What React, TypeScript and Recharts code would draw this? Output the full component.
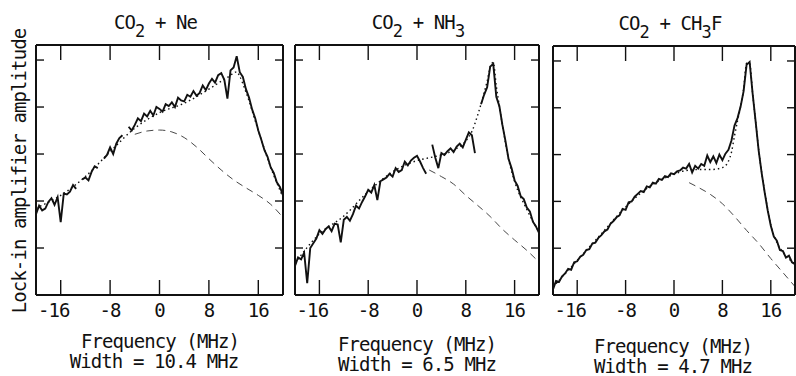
import React from 'react';
import { LineChart, Line, XAxis, YAxis } from 'recharts';

// frequency offsets (MHz) of the recorded traces
const FREQ = [
  -20, -19.5, -19, -18.5, -18, -17.5, -17, -16.5, -16, -15.5,
  -15, -14.5, -14, -13.5, -13, -12.5, -12, -11.5, -11, -10.5,
  -10, -9.5, -9, -8.5, -8, -7.5, -7, -6.5, -6, -5.5,
  -5, -4.5, -4, -3.5, -3, -2.5, -2, -1.5, -1, -0.5,
  0, 0.5, 1, 1.5, 2, 2.5, 3, 3.5, 4, 4.5,
  5, 5.5, 6, 6.5, 7, 7.5, 8, 8.5, 9, 9.5,
  10, 10.5, 11, 11.5, 12, 12.5, 13, 13.5, 14, 14.5,
  15, 15.5, 16, 16.5, 17, 17.5, 18, 18.5, 19, 19.5, 20,
];

// CO2 + Ne
const NE_TRACE = [
  1.72, 1.9, 1.8, 1.84, 1.98, 2.06, 1.92, 2.08, 1.55, 2.16,
  2.14, 2.2, 2.34, 2.26, null, 2.46, 2.5, 2.44, 2.62, 2.74,
  2.7, null, 2.9, 2.98, 3.14, 3.0, 3.22, 3.34, 3.4, null,
  3.58, 3.5, 3.62, 3.76, 3.7, 3.86, 3.8, 3.92, 3.82, 4.0,
  3.96, 3.9, 4.06, 4.02, 4.1, 4.0, 4.2, 4.14, 4.12, 4.26,
  4.22, 4.34, 4.24, 4.3, 4.46, 4.36, 4.5, 4.6, 4.52, 4.68,
  4.72, 4.58, 4.18, 4.78, 4.84, 5.08, 4.74, 4.64, 4.38, 4.2,
  3.95, 3.76, 3.5, 3.3, 3.08, 2.94, 2.72, 2.6, 2.4, 2.3, 2.12,
];
const NE_FIT_F = [-20, -16, -12, -8, -4, 0, 4, 8, 10, 11, 12, 12.5, 13, 14, 16, 18, 20];
const NE_FIT = [1.85, 2.12, 2.52, 3.05, 3.55, 3.88, 4.08, 4.38, 4.55, 4.63, 4.72, 4.75, 4.65, 4.32, 3.5, 2.72, 2.08];
const NE_BASE_F = [-4, -2, 0, 2, 4, 6, 8, 10, 12, 14, 16, 18, 20];
const NE_BASE = [3.42, 3.49, 3.51, 3.47, 3.35, 3.15, 2.9, 2.66, 2.45, 2.28, 2.12, 1.93, 1.65];

// CO2 + NH3
const NH3_TRACE = [
  0.62, 0.8, 0.76, 0.9, 0.25, 1.0, 1.1, 1.2, 1.38, 1.3,
  1.4, 1.46, 1.36, 1.52, 1.5, 1.12, 1.6, 1.66, 1.58, 1.72,
  1.9, 1.84, 1.98, 2.1, 2.24, 2.18, 2.34, 2.02, 2.42, 2.46,
  2.5, 2.58, 2.52, 2.7, 2.62, 2.66, 2.84, 2.76, 2.86, 2.92,
  2.96, 2.84, 2.7, 2.58, null, 3.2, 2.92, 2.7, 3.02, 2.98,
  3.06, 3.12, 3.04, 3.16, 3.22, 3.14, 3.3, 3.46, 3.4, 3.02,
  null, 4.06, 4.26, 4.42, 4.86, 4.92, 4.22, 4.02, 3.62, 3.28,
  2.9, 2.7, 2.44, 2.32, 2.1, 2.04, 1.86, 1.78, 1.56, 1.46, 1.32,
];
const NH3_FIT_F = [-20, -16, -12, -8, -4, 0, 2, 4, 6, 8, 9, 10, 11, 11.5, 12, 12.5, 13, 14, 15, 16, 18, 20];
const NH3_FIT = [0.68, 1.3, 1.68, 2.2, 2.62, 2.86, 2.92, 2.98, 3.08, 3.28, 3.48, 3.85, 4.3, 4.55, 4.85, 4.95, 4.45, 3.62, 2.9, 2.42, 1.82, 1.34];
const NH3_BASE_F = [2, 4, 6, 8, 10, 12, 14, 16, 18, 20];
const NH3_BASE = [2.66, 2.52, 2.36, 2.12, 1.9, 1.67, 1.4, 1.17, 0.95, 0.7];

// CO2 + CH3F
const CH3F_TRACE = [
  0.12, 0.3, 0.28, 0.4, 0.46, 0.56, 0.54, 0.7, 0.72, 0.82,
  0.86, 0.96, 0.98, 1.1, 1.12, 1.22, 1.28, 1.36, 1.4, 1.52,
  1.58, 1.66, 1.7, 1.84, 1.82, 1.98, 2.0, 2.1, 2.16, 2.22,
  2.2, 2.32, 2.3, 2.4, 2.38, 2.48, 2.46, 2.54, 2.52, 2.6,
  2.58, 2.64, 2.66, 2.72, 2.7, 2.8, 2.62, 2.76, 2.7, 2.8,
  2.76, 2.98, 2.84, 2.96, 2.82, 3.0, 2.88, 3.02, 3.1, 3.3,
  3.62, 3.78, 4.02, 4.35, 4.92, 4.98, 4.3, 3.7, 3.08, 2.6,
  2.18, 1.8, 1.48, 1.25, 1.16, 0.96, 0.94, 0.8, 0.84, 0.7, 0.66,
];
const CH3F_FIT_F = [-20, -16, -12, -8, -4, 0, 2, 4, 6, 8, 9, 9.5, 10, 10.5, 11, 11.5, 12, 12.5, 13, 13.5, 14, 15, 16, 17, 18, 20];
const CH3F_FIT = [0.17, 0.74, 1.31, 1.88, 2.32, 2.58, 2.66, 2.68, 2.68, 2.72, 2.86, 3.05, 3.4, 3.72, 4.02, 4.4, 4.95, 4.95, 4.3, 3.7, 3.1, 2.2, 1.5, 1.12, 0.92, 0.66];
const CH3F_BASE_F = [2.5, 4, 6, 8, 10, 12, 14, 16, 18, 20];
const CH3F_BASE = [2.4, 2.3, 2.15, 1.95, 1.68, 1.38, 1.1, 0.78, 0.48, 0.18];

const X_TICKS = [-16, -8, 0, 8, 16];
const Y_TICKS = [1, 2, 3, 4, 5];

const FONT = '"DejaVu Sans Mono", monospace';
const INK = '#111';
const TEXT = { fontFamily: FONT, fontSize: 19, letterSpacing: '-0.9px', color: INK, lineHeight: 1 };

const zip = (fs: number[], vs: (number | null)[]) => fs.map((f, i) => ({ f, v: vs[i] }));

const FreqTick = (props: any) => {
  const { x, y, payload } = props;
  const shift = payload.value === -16 ? -7 : 0;
  return (
    <text x={x + shift} y={y} dy="0.36em" textAnchor="middle" fontFamily={FONT} fontSize={19}
      letterSpacing={-0.9} fill={INK}>
      {payload.value}
    </text>
  );
};
const NoTick = () => <g />;

const axisLine = { stroke: INK, strokeWidth: 2 };
const tickLine = { stroke: INK, strokeWidth: 1.4 };

interface PanelProps {
  x: number;
  y: number;
  w: number;
  h: number;
  trace: any[];
  fit: any[];
  base: any[];
}

// axes of width/height 0 are not drawn, so the hidden-label axes get 1px
const Panel: React.FC<PanelProps> = ({ x, y, w, h, trace, fit, base }) => (
  <div style={{ position: 'absolute', left: x - 20, top: y - 20 }}>
    <LineChart width={w + 40} height={h + 60} margin={{ top: 19, right: 19, bottom: 0, left: 19 }}>
      <XAxis xAxisId="b" dataKey="f" type="number" domain={[-20, 20]} ticks={X_TICKS} allowDataOverflow
        orientation="bottom" height={40} tickSize={-15} tickMargin={30.5} tick={FreqTick}
        axisLine={axisLine} tickLine={tickLine} />
      <XAxis xAxisId="t" dataKey="f" type="number" domain={[-20, 20]} ticks={X_TICKS} allowDataOverflow
        orientation="top" height={1} tickSize={-15} tick={NoTick} axisLine={axisLine} tickLine={tickLine} />
      <YAxis yAxisId="l" type="number" domain={[0, 5.32]} ticks={Y_TICKS} allowDataOverflow
        orientation="left" width={1} tickSize={-8} tick={NoTick} axisLine={axisLine} tickLine={tickLine} />
      <YAxis yAxisId="r" type="number" domain={[0, 5.32]} ticks={Y_TICKS} allowDataOverflow
        orientation="right" width={1} tickSize={-8} tick={NoTick} axisLine={axisLine} tickLine={tickLine} />
      <Line xAxisId="b" yAxisId="l" data={base} dataKey="v" type="monotone" stroke="#333"
        strokeWidth={0.9} strokeDasharray="7 5" dot={false} isAnimationActive={false} />
      <Line xAxisId="t" yAxisId="r" data={fit} dataKey="v" type="monotone" stroke={INK}
        strokeWidth={1.4} strokeDasharray="1.5 3" dot={false} isAnimationActive={false} />
      <Line xAxisId="b" yAxisId="l" data={trace} dataKey="v" type="linear" stroke={INK}
        strokeWidth={1.9} dot={false} isAnimationActive={false} />
    </LineChart>
  </div>
);

const Caption: React.FC<{ cx: number; cy: number; children: React.ReactNode }> = ({ cx, cy, children }) => (
  <div style={{
    ...TEXT, position: 'absolute', left: cx, top: cy, transform: 'translate(-50%, -50%)', whiteSpace: 'nowrap',
  }}>
    {children}
  </div>
);

const Sub: React.FC<{ children: React.ReactNode }> = ({ children }) => (
  <span style={{ fontSize: 17, position: 'relative', top: 8 }}>{children}</span>
);

export default function App() {
  return (
    <div style={{ position: 'absolute', left: 0, top: 0, width: 796, height: 376, background: '#fff', overflow: 'hidden' }}>
      <div style={{
        ...TEXT, position: 'absolute', left: 18.5, top: 171, transform: 'translate(-50%, -50%) rotate(-90deg)',
        whiteSpace: 'nowrap',
      }}>
        Lock-in amplifier amplitude
      </div>

      <Caption cx={155.5} cy={21.5}>CO<Sub>2</Sub> + Ne</Caption>
      <Caption cx={418} cy={21.5}>CO<Sub>2</Sub> + NH<Sub>3</Sub></Caption>
      <Caption cx={670} cy={23}>CO<Sub>2</Sub> + CH<Sub>3</Sub>F</Caption>

      <Panel x={36} y={45} w={247} h={250}
        trace={zip(FREQ, NE_TRACE)} fit={zip(NE_FIT_F, NE_FIT)} base={zip(NE_BASE_F, NE_BASE)} />
      <Panel x={295} y={45} w={244} h={250}
        trace={zip(FREQ, NH3_TRACE)} fit={zip(NH3_FIT_F, NH3_FIT)} base={zip(NH3_BASE_F, NH3_BASE)} />
      <Panel x={553} y={46} w={242} h={249}
        trace={zip(FREQ, CH3F_TRACE)} fit={zip(CH3F_FIT_F, CH3F_FIT)} base={zip(CH3F_BASE_F, CH3F_BASE)} />

      <Caption cx={160} cy={341}>Frequency (MHz)</Caption>
      <Caption cx={154} cy={361}>Width = 10.4 MHz</Caption>
      <Caption cx={417} cy={344}>Frequency (MHz)</Caption>
      <Caption cx={417} cy={364}>Width = 6.5 MHz</Caption>
      <Caption cx={673} cy={346}>Frequency (MHz)</Caption>
      <Caption cx={673} cy={366}>Width = 4.7 MHz</Caption>
    </div>
  );
}
